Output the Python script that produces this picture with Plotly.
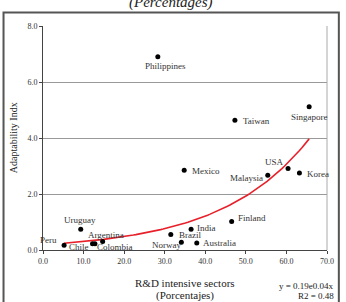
import numpy as np
import plotly.graph_objects as go

countries = ["Philippines", "Taiwan", "Singapore", "Mexico", "USA", "Malaysia", "Korea",
             "Finland", "India", "Brazil", "Norway", "Australia", "Uruguay", "Peru",
             "Chile", "Argentina", "Colombia"]
rd_share = [28.3, 47.3, 65.6, 34.8, 60.4, 55.4, 63.2, 46.5, 36.5, 31.5, 34.1, 37.9, 9.3, 5.2,
            12.2, 12.8, 14.7]
adapt_idx = [6.90, 4.63, 5.12, 2.85, 2.91, 2.67, 2.75, 1.02, 0.74, 0.55, 0.28, 0.25, 0.74, 0.17,
             0.22, 0.22, 0.30]
x_ticks = [0, 10, 20, 30, 40, 50, 60, 70]
y_ticks = [0, 2, 4, 6, 8]

# label placement (style only): xanchor, xshift, yshift
label_pos = {
    "Philippines": ("center", 8, -9), "Taiwan": ("left", 6, -1), "Singapore": ("center", 0, -10),
    "Mexico": ("left", 6, -1), "USA": ("center", -14, 7), "Malaysia": ("right", -3, -3),
    "Korea": ("left", 6, -1), "Finland": ("left", 4, 3), "India": ("left", 4, 1),
    "Brazil": ("left", 6, 0), "Norway": ("right", 2, -3), "Australia": ("left", 4, 0),
    "Uruguay": ("center", -1, 9), "Peru": ("right", -5, 5), "Chile": ("right", -2, -3),
    "Argentina": ("center", 11, 9), "Colombia": ("center", 12, -5),
}

# exponential trend line fitted to the data (as Excel does)
xs = np.array(rd_share)
ys = np.array(adapt_idx)
b, ln_a = np.polyfit(xs, np.log(ys), 1)
a = np.exp(ln_a)
xt = np.linspace(xs.min(), xs.max(), 100)
yt = a * np.exp(b * xt)

SERIF = "Liberation Serif"
fig = go.Figure()
fig.add_trace(go.Scatter(x=xt, y=yt, mode="lines", line=dict(color="#e8202a", width=1.6),
                         hoverinfo="skip", showlegend=False))
fig.add_trace(go.Scatter(x=rd_share, y=adapt_idx, mode="markers",
                         marker=dict(color="black", size=5), showlegend=False))

annotations = []
for c, x, y in zip(countries, rd_share, adapt_idx):
    anc, dx, dy = label_pos[c]
    annotations.append(dict(x=x, y=y, text=c, showarrow=False, xanchor=anc, yanchor="middle",
                            xshift=dx, yshift=dy, font=dict(family=SERIF, size=9, color="#333")))

annotations += [
    dict(text="<i>(Percentages)</i>", xref="paper", yref="paper", x=0.45, y=1.107,
         showarrow=False, xanchor="center", yanchor="middle",
         font=dict(family=SERIF, size=15, color="#222")),
    dict(text="R&D intensive sectors", xref="paper", yref="paper", x=0.5, y=-0.147,
         showarrow=False, xanchor="center", yanchor="middle",
         font=dict(family=SERIF, size=11, color="#222")),
    dict(text="(Porcentajes)", xref="paper", yref="paper", x=0.5, y=-0.205,
         showarrow=False, xanchor="center", yanchor="middle",
         font=dict(family=SERIF, size=11, color="#222")),
    dict(text="y = %.2fe%.2fx" % (a, int(b * 100) / 100), xref="paper", yref="paper", x=1.03, y=-0.16,
         showarrow=False, xanchor="right", yanchor="middle",
         font=dict(family=SERIF, size=9, color="#222")),
    dict(text="R2 = 0.48", xref="paper", yref="paper", x=1.03, y=-0.205,
         showarrow=False, xanchor="right", yanchor="middle",
         font=dict(family=SERIF, size=9, color="#222")),
    dict(text="Adaptability Indx", xref="paper", yref="paper", x=-0.105, y=0.5, textangle=-90,
         showarrow=False, xanchor="center", yanchor="middle",
         font=dict(family=SERIF, size=10, color="#222")),
]

shapes = [
    dict(type="rect", xref="paper", yref="paper", x0=-0.139, x1=1.0417, y0=-0.3, y1=1.06,
         line=dict(color="#555", width=2), layer="below"),
    dict(type="line", xref="paper", yref="paper", x0=1, x1=1, y0=0, y1=1,
         line=dict(color="#aaa", width=1)),
]

fig.update_layout(
    width=346, height=302, margin=dict(l=43, r=15, t=26, b=52),
    paper_bgcolor="white", plot_bgcolor="white",
    annotations=annotations, shapes=shapes,
    xaxis=dict(range=[0, 70], tickvals=x_ticks, ticktext=["%.1f" % v for v in x_ticks],
               showgrid=False, zeroline=False, showline=True, linecolor="#444", linewidth=1,
               ticks="outside", ticklen=3, tickcolor="#444",
               tickfont=dict(family=SERIF, size=8, color="#333")),
    yaxis=dict(range=[0, 8], tickvals=y_ticks, ticktext=["%.1f" % v for v in y_ticks],
               showgrid=True, gridcolor="#999", gridwidth=1, zeroline=False,
               showline=True, linecolor="#444", linewidth=1,
               ticks="outside", ticklen=3, tickcolor="#444",
               tickfont=dict(family=SERIF, size=8, color="#333")),
)

fig.write_html("out.html")
